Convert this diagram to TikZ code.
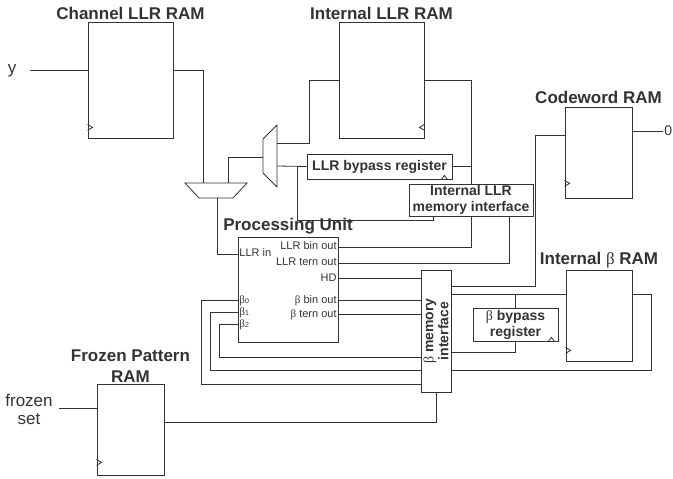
\documentclass[tikz,border=0pt]{standalone}
\usepackage{fontspec}
\setmainfont{Liberation Sans}
\newfontfamily\grk{Liberation Serif}
\usetikzlibrary{positioning}
\newcommand{\bt}{{\mdseries\grk β}}

\begin{document}
\begin{tikzpicture}[x=1bp, y=-1bp, line width=0.8bp, color=black!80,
    box/.style={draw, fill=white, inner sep=0pt},
    ttl/.style={font=\fontsize{17bp}{21bp}\selectfont\bfseries, inner sep=0pt, align=center},
    reg/.style={box, font=\fontsize{14bp}{16bp}\selectfont\bfseries, align=center},
    port/.style={font=\fontsize{11bp}{13bp}\selectfont, inner sep=1bp, text height=8bp, text depth=2bp},
    sig/.style={font=\fontsize{17bp}{18bp}\selectfont, inner sep=0pt, align=center}]

  \useasboundingbox (0,0) rectangle (673,479);

  % memories
  \node[box, minimum width=85bp, minimum height=116bp] (chram) at (130.5,80) {};
  \node[ttl, above=2bp of chram] (chramt) {Channel LLR RAM};
  \node[box, minimum width=85bp, minimum height=116bp] (illram) at (381.5,80) {};
  \node[ttl, above=2bp of illram] (illramt) {Internal LLR RAM};
  \node[box, minimum width=67bp, minimum height=91bp] (cwram) at (598.5,152.5) {};
  \node[ttl, above=3bp of cwram] (cwramt) {Codeword RAM};
  \node[box, minimum width=66bp, minimum height=91bp] (bram) at (599,315.5) {};
  \node[ttl, above=1bp of bram] (bramt) {Internal \bt{} RAM};
  \node[box, minimum width=67bp, minimum height=91bp] (fpram) at (130.5,429.5) {};
  \node[ttl, above=1bp of fpram] (fpramt) {Frozen Pattern\\RAM};

  % clock marks
  \draw ([yshift=14bp]chram.south west) -- ++(5,3) -- ++(-5,3);
  \draw ([yshift=14bp]illram.south east) -- ++(-5,3) -- ++(5,3);
  \draw ([yshift=18bp]cwram.south west) -- ++(5,3) -- ++(-5,3);
  \draw ([yshift=14bp]bram.south west) -- ++(5,3) -- ++(-5,3);
  \draw ([yshift=16bp]fpram.south west) -- ++(5,3) -- ++(-5,3);

  % processing unit
  \node[box, minimum width=100bp, minimum height=105bp] (pu) at (288,289.5) {};
  \node[ttl, above=2bp of pu] (put) {Processing Unit};
  \node[port, anchor=west] (llrin) at (238,254) {LLR in};
  \node[port, anchor=east] (lbo) at (338,247) {LLR bin out};
  \node[port, anchor=east] (lto) at (338,263) {LLR tern out};
  \node[port, anchor=east] (hd) at (338,278) {HD};
  \node[port, anchor=east] (bbo) at (338,300) {\bt{} bin out};
  \node[port, anchor=east] (bto) at (338,314) {\bt{} tern out};
  \node[port, anchor=west] (b0) at (238,300) {\bt{\fontsize{7bp}{8bp}\selectfont 0}};
  \node[port, anchor=west] (b1) at (238,312) {\bt{\fontsize{7bp}{8bp}\selectfont 1}};
  \node[port, anchor=west] (b2) at (238,324) {\bt{\fontsize{7bp}{8bp}\selectfont 2}};

  % registers and interfaces
  \node[reg, minimum width=145bp, minimum height=25bp] (llrbyp) at (379.5,166.5) {LLR bypass register};
  \node[reg, minimum width=124bp, minimum height=32bp] (llrmi) at (471,200) {Internal LLR\\memory interface};
  \node[reg, minimum width=85bp, minimum height=33bp] (bbyp) at (515.5,324.5) {\bt{} bypass\\register};
  \node[box, minimum width=30bp, minimum height=122bp] (bmi) at (436,331) {};
  \node[rotate=90, align=center, inner sep=0pt, font=\fontsize{14bp}{15bp}\selectfont\bfseries] (bmit) at (bmi) {\bt{} memory\\interface};
  \draw ([xshift=-11bp]llrbyp.south east) -- ++(3,-4) -- ++(3,4);
  \draw ([xshift=-10bp]bbyp.south east) -- ++(3,-4) -- ++(3,4);

  % multiplexers
  \coordinate (m1a) at (203,183);
  \coordinate (m1b) at (228,183);
  \coordinate (m1o) at (217,198);
  \coordinate (m2i) at (263,157);
  \coordinate (m2a) at (277,143);
  \coordinate (m2b) at (277,166);
  \draw[fill=white] (185,183) -- (247,183) -- (233,198) -- (199,198) -- cycle;
  \draw[fill=white] (263,139) -- (277,125) -- (277,187) -- (263,173) -- cycle;

  % inputs and outputs
  \node[sig] (ysig) at (12,71) {y};
  \coordinate (chi) at (88,70);
  \draw (chi) -- ++(-58,0);
  \node[sig] (fzs) at (29,409) {frozen\\set};
  \coordinate (fpi) at (97,408);
  \draw (fpi) -- ++(-38,0);
  \coordinate (cwo) at (632,131);
  \node[anchor=west, inner sep=1bp, font=\fontsize{14bp}{15bp}\selectfont] (cwout) at (663,131) {0};
  \draw (cwo) -- (cwout.west);

  % LLR path
  \draw (chi -| chram.east) -| (m1a);
  \draw (m1b) |- (m2i);
  \draw (m1o) |- (llrin.west);
  \draw (m2a) -- ++(32,0) |- (illram.west);
  \draw (m2b) -- (llrbyp.west);
  \coordinate (j1) at (297,166);
  \draw (j1) |- ([xshift=-38bp,yshift=-4bp]llrmi.south) -- ([xshift=-38bp]llrmi.south);
  \draw (illram.east) -| (llrmi.north);
  \draw (llrbyp.east) -- (llrbyp.east -| llrmi.north);
  \draw (lbo.east) -| (llrmi.south);
  \draw (lto.east) -| ([xshift=38bp]llrmi.south);

  % beta path
  \coordinate (bo1) at (451,286);
  \coordinate (bo2) at (451,294);
  \coordinate (bo3) at (451,352);
  \coordinate (bo4) at (451,370);
  \coordinate (cwi) at (565,135);
  \coordinate (bri) at (632,294);
  \draw (hd.east) -- (hd.east -| bmi.west);
  \draw (bo1) -| ([xshift=-30bp]cwi) -- (cwi);
  \draw (bbo.east) -- (bbo.east -| bmi.west);
  \draw (bto.east) -- (bto.east -| bmi.west);
  \draw (b0.west) -- ++(-37,0) |- (421,384);
  \draw (b1.west) -- ++(-28,0) |- (421,370);
  \draw (b2.west) -- ++(-19,0) |- (421,357);
  \draw (bo2) -- (bo2 -| bram.west);
  \draw (bo2 -| bbyp.north) -- (bbyp.north);
  \draw (bo3) -| (bbyp.south);
  \draw (bo4) -| ([xshift=19bp]bri) -- (bri);
  \coordinate (fpo) at (164,422);
  \draw (bmi.south) |- (fpo);
\end{tikzpicture}
\end{document}
